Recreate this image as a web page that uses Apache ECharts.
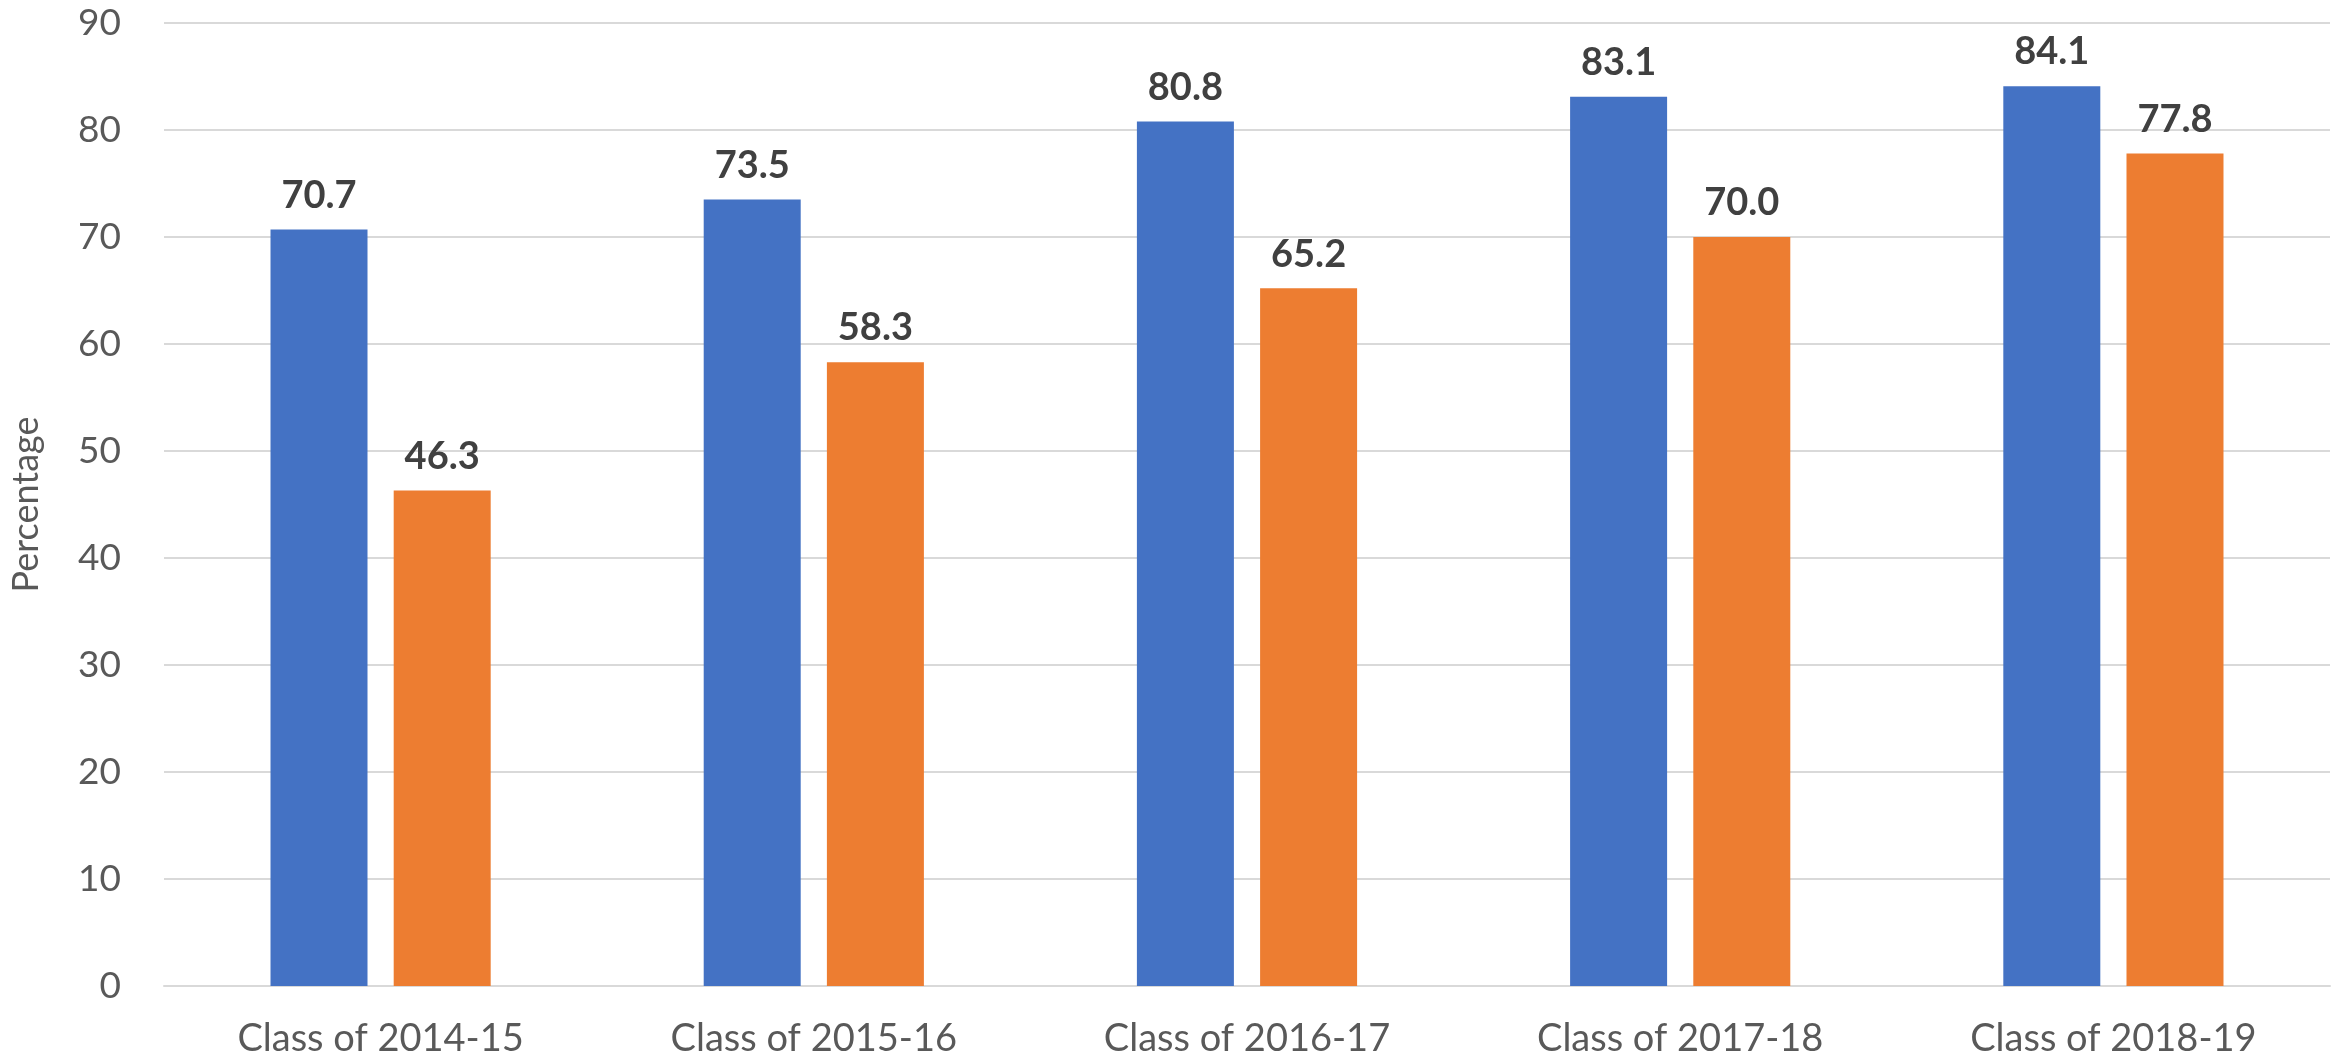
<!DOCTYPE html>
<html>
<head>
<meta charset="utf-8">
<title>Percentage by class</title>
<script src="https://cdn.jsdelivr.net/npm/echarts@6/dist/echarts.min.js"></script>
<style>
    html, body { margin: 0; padding: 0; background: #fff; }
    #chart { width: 2348px; height: 1060px; }
</style>
</head>
<body>
<div id="chart"></div>
<script>
// categories and the two series
const categories = ['Class of 2014-15', 'Class of 2015-16', 'Class of 2016-17', 'Class of 2017-18', 'Class of 2018-19'];
const seriesBlue = [70.7, 73.5, 80.8, 83.1, 84.1];
const seriesOrange = [46.3, 58.3, 65.2, 70.0, 77.8];
const yTicks = [0, 10, 20, 30, 40, 50, 60, 70, 80, 90];

let BarChart = (function () {
    let chart = echarts.init(document.getElementById('chart'));
    let font = 'Lato, "Open Sans", sans-serif';

    let label_style = {
        show: true,
        position: 'top',
        distance: 15,
        fontFamily: font,
        fontSize: 38,
        fontWeight: 'bold',
        color: '#404040',
        formatter: function (p) {
            return p.value.toFixed(1);
        }
    };

    let _init = function () {
        let option = {
            animation: false,
            grid: {
                left: 163,
                right: 18,
                top: 23,
                bottom: 74
            },
            xAxis: {
                type: 'category',
                data: categories,
                axisTick: { show: false },
                axisLine: { lineStyle: { color: '#d9d9d9', width: 2 } },
                axisLabel: {
                    margin: 34,
                    fontFamily: font,
                    fontSize: 38,
                    color: '#595959'
                }
            },
            yAxis: {
                type: 'value',
                min: yTicks[0],
                max: yTicks[yTicks.length - 1],
                interval: 10,
                name: 'Percentage',
                nameLocation: 'middle',
                nameGap: 120,
                nameTextStyle: {
                    fontFamily: font,
                    fontSize: 36,
                    color: '#595959'
                },
                axisLine: { show: false },
                axisTick: { show: false },
                axisLabel: {
                    margin: 43,
                    fontFamily: font,
                    fontSize: 37,
                    color: '#595959'
                },
                splitLine: { lineStyle: { color: '#d9d9d9', width: 2 } }
            },
            series: [{
                type: 'bar',
                data: seriesBlue,
                barWidth: 97,
                barGap: '27%',
                itemStyle: { color: '#4472C4' },
                label: label_style
            }, {
                type: 'bar',
                data: seriesOrange,
                barWidth: 97,
                itemStyle: { color: '#ED7D31' },
                label: label_style
            }]
        };
        chart.setOption(option);
    };

    return {
        init: _init
    };
})();
BarChart.init();
</script>
</body>
</html>
